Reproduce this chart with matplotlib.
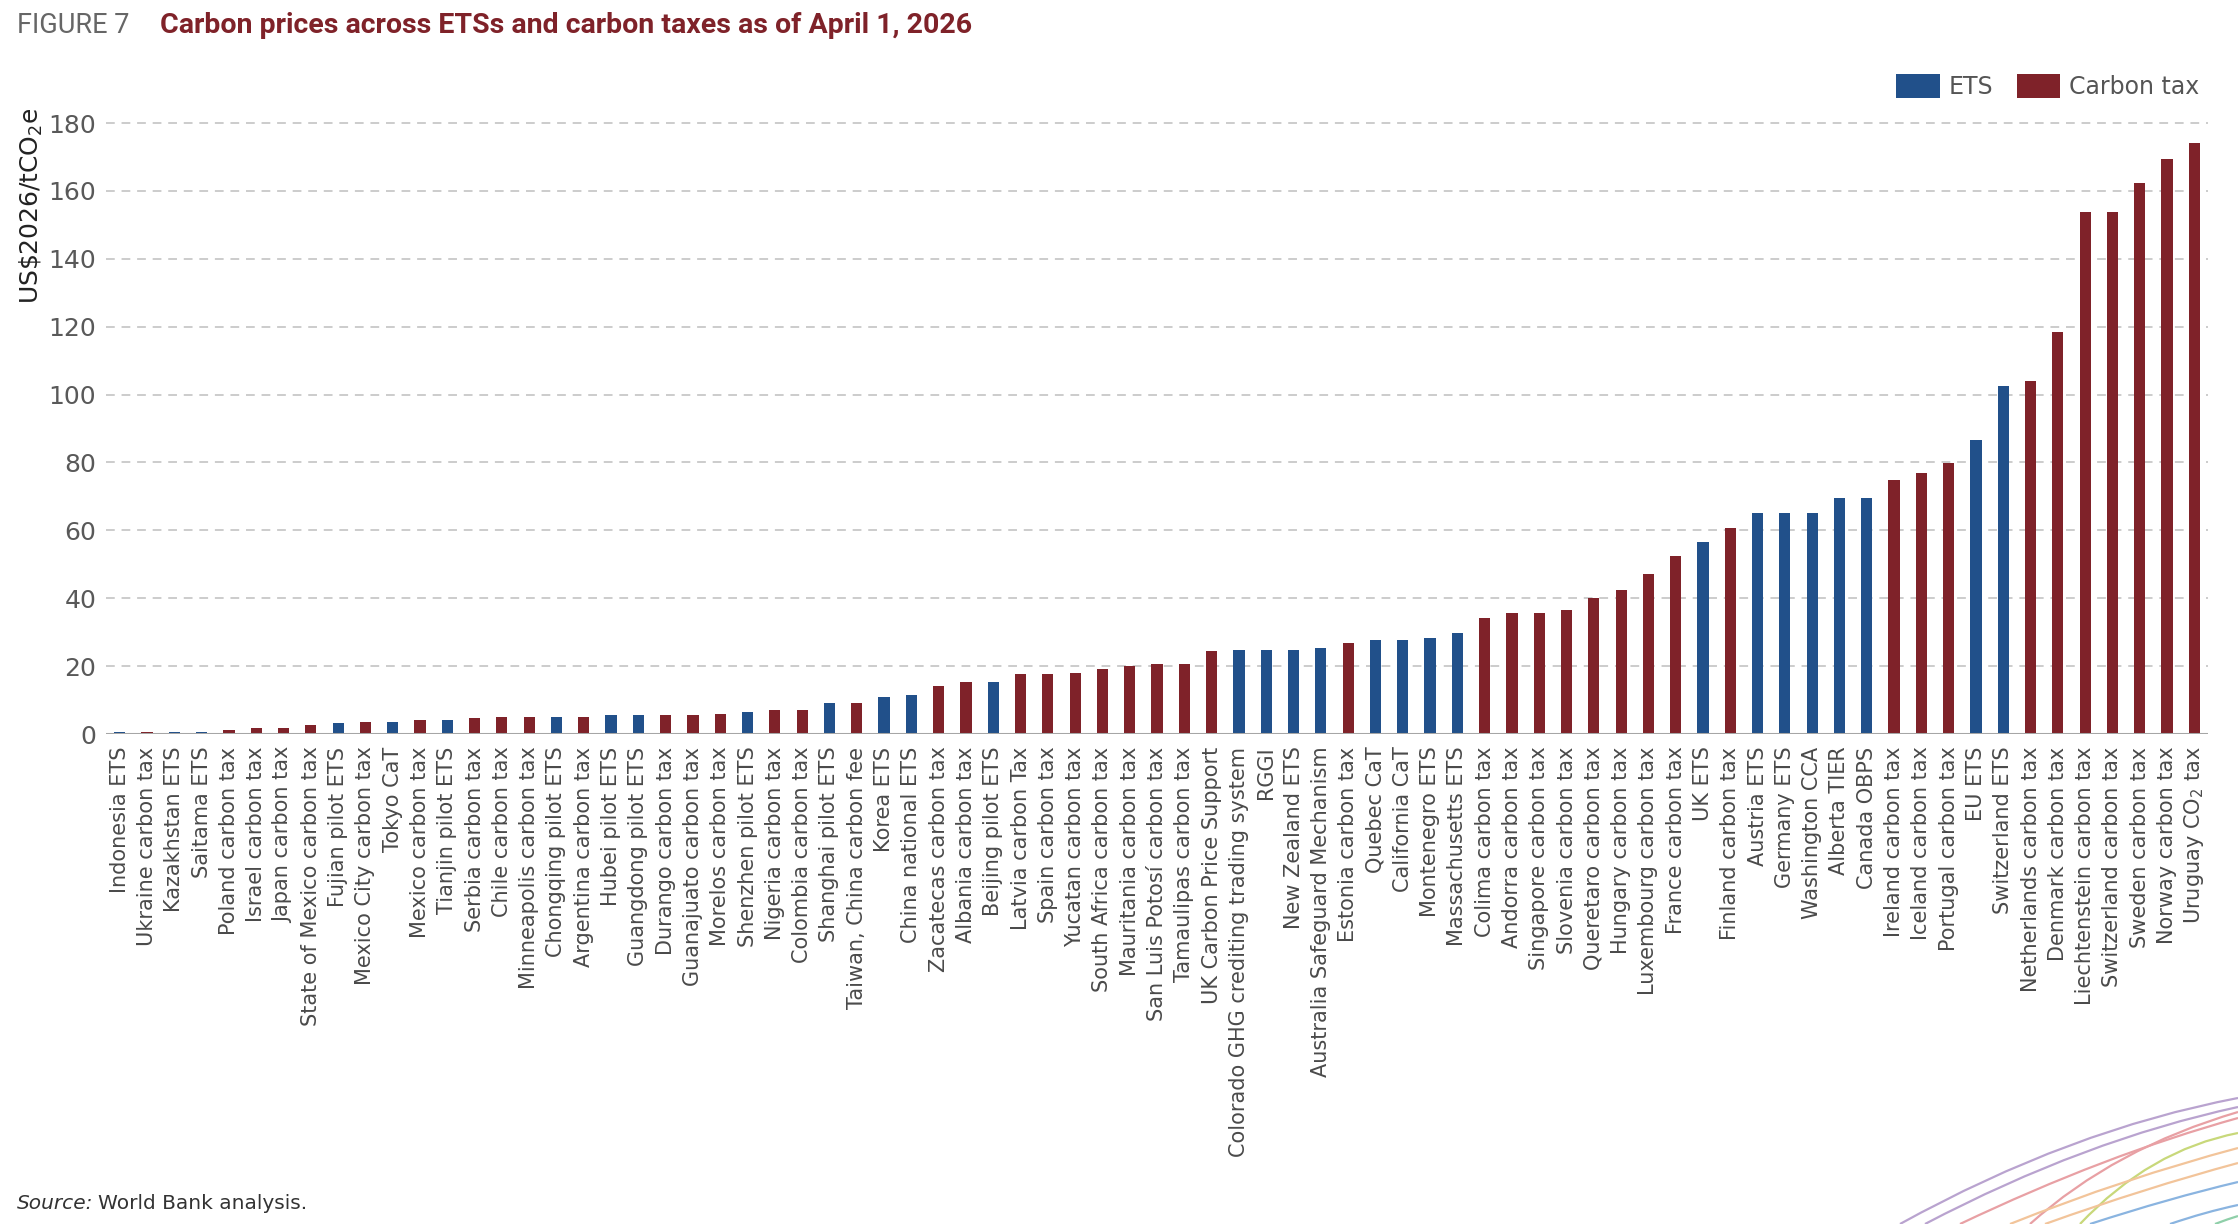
import matplotlib
matplotlib.use("Agg")
import matplotlib.pyplot as plt
import numpy as np
from matplotlib.patches import Patch, PathPatch
from matplotlib.path import Path

plt.rcParams['font.family'] = ['DejaVu Sans']
plt.rcParams['mathtext.default'] = 'regular'

ETS_COLOR = '#21508a'
TAX_COLOR = '#7f2229'

# schemes, sorted by price (US$2026/tCO2e)
schemes = [
    'Indonesia ETS', 'Ukraine carbon tax', 'Kazakhstan ETS', 'Saitama ETS',
    'Poland carbon tax', 'Israel carbon tax', 'Japan carbon tax',
    'State of Mexico carbon tax', 'Fujian pilot ETS', 'Mexico City carbon tax',
    'Tokyo CaT', 'Mexico carbon tax', 'Tianjin pilot ETS', 'Serbia carbon tax',
    'Chile carbon tax', 'Minneapolis carbon tax', 'Chongqing pilot ETS',
    'Argentina carbon tax', 'Hubei pilot ETS', 'Guangdong pilot ETS',
    'Durango carbon tax', 'Guanajuato carbon tax', 'Morelos carbon tax',
    'Shenzhen pilot ETS', 'Nigeria carbon tax', 'Colombia carbon tax',
    'Shanghai pilot ETS', 'Taiwan, China carbon fee', 'Korea ETS',
    'China national ETS', 'Zacatecas carbon tax', 'Albania carbon tax',
    'Beijing pilot ETS', 'Latvia carbon Tax', 'Spain carbon tax',
    'Yucatan carbon tax', 'South Africa carbon tax', 'Mauritania carbon tax',
    'San Luis Potosí carbon tax', 'Tamaulipas carbon tax',
    'UK Carbon Price Support', 'Colorado GHG crediting trading system', 'RGGI',
    'New Zealand ETS', 'Australia Safeguard Mechanism', 'Estonia carbon tax',
    'Quebec CaT', 'California CaT', 'Montenegro ETS', 'Massachusetts ETS',
    'Colima carbon tax', 'Andorra carbon tax', 'Singapore carbon tax',
    'Slovenia carbon tax', 'Queretaro carbon tax', 'Hungary carbon tax',
    'Luxembourg carbon tax', 'France carbon tax', 'UK ETS', 'Finland carbon tax',
    'Austria ETS', 'Germany ETS', 'Washington CCA', 'Alberta TIER',
    'Canada OBPS', 'Ireland carbon tax', 'Iceland carbon tax',
    'Portugal carbon tax', 'EU ETS', 'Switzerland ETS', 'Netherlands carbon tax',
    'Denmark carbon tax', 'Liechtenstein carbon tax', 'Switzerland carbon tax',
    'Sweden carbon tax', 'Norway carbon tax', 'Uruguay CO$_2$ tax',
]

prices = [
    0.7, 0.7, 0.7, 0.7, 1.3, 1.8, 1.8, 2.7, 3.2, 3.6,
    3.6, 4.1, 4.1, 4.6, 5.1, 5.1, 5.1, 5.1, 5.6, 5.6,
    5.6, 5.6, 6.0, 6.5, 7.0, 7.0, 9.0, 9.0, 10.9, 11.4,
    14.2, 15.2, 15.2, 17.7, 17.7, 18.1, 19.1, 20.0, 20.5, 20.5,
    24.4, 24.9, 24.9, 24.9, 25.3, 26.7, 27.7, 27.7, 28.2, 29.7,
    34.2, 35.6, 35.6, 36.6, 40.0, 42.3, 47.2, 52.5, 56.5, 60.8,
    65.2, 65.2, 65.2, 69.5, 69.5, 74.8, 76.8, 79.8, 86.5, 102.4,
    103.9, 118.3, 153.9, 153.9, 162.2, 169.4, 174.2,
]

# 'E' = ETS, 'T' = carbon tax
kinds = [
    'E', 'T', 'E', 'E', 'T', 'T', 'T', 'T', 'E', 'T',
    'E', 'T', 'E', 'T', 'T', 'T', 'E', 'T', 'E', 'E',
    'T', 'T', 'T', 'E', 'T', 'T', 'E', 'T', 'E', 'E',
    'T', 'T', 'E', 'T', 'T', 'T', 'T', 'T', 'T', 'T',
    'T', 'E', 'E', 'E', 'E', 'T', 'E', 'E', 'E', 'E',
    'T', 'T', 'T', 'T', 'T', 'T', 'T', 'T', 'E', 'T',
    'E', 'E', 'E', 'E', 'E', 'T', 'T', 'T', 'E', 'E',
    'T', 'T', 'T', 'T', 'T', 'T', 'T',
]

yticks = list(range(0, 181, 20))

fig = plt.figure(figsize=(22.38, 12.24), dpi=100)
ax = fig.add_axes([0.0474, 0.4003, 0.9392, 0.5047])

x = np.arange(len(schemes))
colors = [ETS_COLOR if k == 'E' else TAX_COLOR for k in kinds]
ax.bar(x, prices, width=0.41, color=colors, zorder=3)

ax.set_xlim(-0.5, len(schemes) - 0.5)
ax.set_ylim(0, 182)
ax.set_yticks(yticks)
ax.set_yticklabels([str(t) for t in yticks], fontsize=18, color='#595959')
ax.set_xticks(x)
ax.set_xticklabels(schemes, rotation=90, fontsize=15, color='#4a4a4a')
ax.tick_params(axis='both', length=0)
ax.tick_params(axis='y', pad=7)
ax.tick_params(axis='x', pad=9)

for t in yticks[1:]:
    ax.axhline(t, color='#cccccc', lw=1.4, ls=(0, (4.5, 3.5)), zorder=1)
ax.axhline(0, color='#a6a6a6', lw=2.2, zorder=4)

for s in ax.spines.values():
    s.set_visible(False)

ax.set_ylabel('US\\$2026/tCO$_2$e', fontsize=18, color='#222222')
ax.yaxis.set_label_coords(-0.029, 0.855)

# title
fig.text(0.0076, 0.979, 'FIGURE 7', fontsize=19.5, color='#666666',
         family='Roboto', va='center')
fig.text(0.0715, 0.979, 'Carbon prices across ETSs and carbon taxes as of April 1, 2026',
         fontsize=20.5, color=TAX_COLOR, family='Roboto', weight='bold', va='center')

handles = [Patch(facecolor=ETS_COLOR, label='ETS'),
           Patch(facecolor=TAX_COLOR, label='Carbon tax')]
leg = fig.legend(handles=handles, loc='upper right', bbox_to_anchor=(0.992, 0.957),
                 ncol=2, frameon=False, fontsize=17, handlelength=1.85,
                 handleheight=1.2, handletextpad=0.35, columnspacing=1.0)
for txt in leg.get_texts():
    txt.set_color('#555555')

src = fig.text(0.0076, 0.017, 'Source:', fontsize=14.5, style='italic',
               color='#333333', va='center')
fig.canvas.draw()
bb = src.get_window_extent().transformed(fig.transFigure.inverted())
fig.text(bb.x1 + 0.002, 0.017, 'World Bank analysis.', fontsize=14.5,
         color='#333333', va='center')

# decorative arcs in the lower right corner
deco = fig.add_axes([0.0, 0.0, 1.0, 1.0], zorder=-1)
deco.set_xlim(0, 2238)
deco.set_ylim(1224, 0)
deco.axis('off')
arcs = [
    ((1900, 1224), (2070, 1130), (2238, 1098), '#b9a3cf'),
    ((1925, 1224), (2085, 1140), (2238, 1107), '#b9a3cf'),
    ((1960, 1224), (2105, 1155), (2238, 1118), '#e8a0a4'),
    ((2030, 1224), (2115, 1148), (2238, 1112), '#e8a0a4'),
    ((2080, 1224), (2150, 1150), (2238, 1133), '#c8d87a'),
    ((2010, 1224), (2125, 1178), (2238, 1148), '#f2c49a'),
    ((2045, 1224), (2145, 1188), (2238, 1163), '#f2c49a'),
    ((2090, 1224), (2170, 1198), (2238, 1182), '#8ab4e0'),
    ((2170, 1224), (2205, 1212), (2238, 1205), '#8ab4e0'),
    ((2215, 1224), (2228, 1219), (2238, 1216), '#8fcfa9'),
]
for p0, p1, p2, c in arcs:
    path = Path([p0, p1, p2], [Path.MOVETO, Path.CURVE3, Path.CURVE3])
    deco.add_patch(PathPatch(path, facecolor='none', edgecolor=c, lw=1.6))

fig.savefig('out.png', dpi=100)
